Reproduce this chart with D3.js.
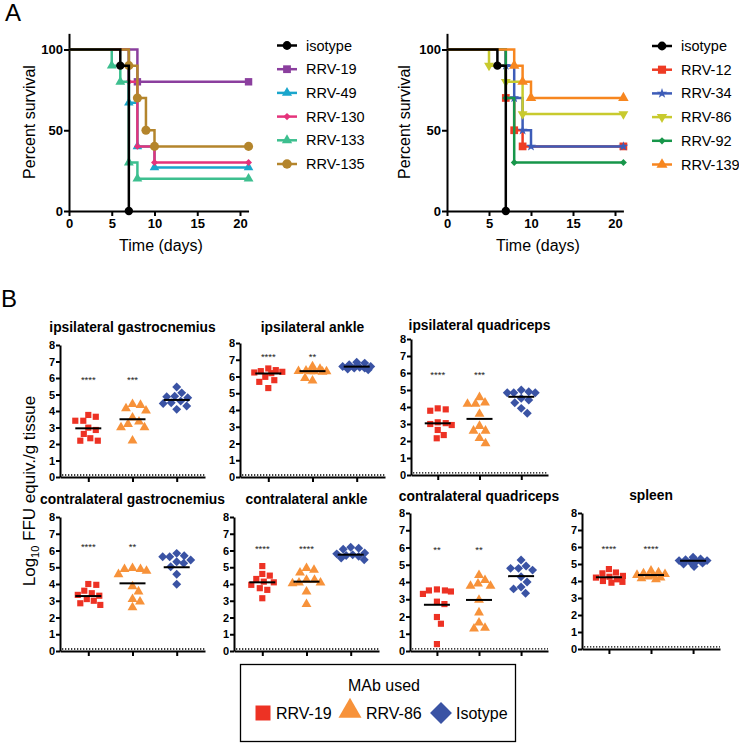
<!DOCTYPE html>
<html><head><meta charset="utf-8">
<script src="https://cdn.jsdelivr.net/npm/d3@7"></script>
<style>body{margin:0;background:#fff} svg{display:block} text{font-family:Arial,"Liberation Sans",Helvetica,sans-serif}</style>
</head><body><svg id="c" width="739" height="743"></svg>
<script>
// ---------- DATA: panel A (survival, [day, percent]) ----------
const survDayTicks = [0,5,10,15,20];
const survPctTicks = [0,50,100];
const leftNames  = ["isotype","RRV-19","RRV-49","RRV-130","RRV-133","RRV-135"];
const leftIsotype = [[0,100],[6,90],[7,0]];
const leftRRV19   = [[0,100],[8,80],[21,80]];
const leftRRV49   = [[0,100],[7,67],[8,40],[10,27],[21,27]];
const leftRRV130  = [[0,100],[7,80],[8,40],[10,30],[21,30]];
const leftRRV133  = [[0,100],[5,90],[6,80],[7,30],[8,20],[21,20]];
const leftRRV135  = [[0,100],[7,90],[8,70],[9,50],[10,40],[21,40]];
const rightNames = ["isotype","RRV-12","RRV-34","RRV-86","RRV-92","RRV-139"];
const rightIsotype = [[0,100],[6,90],[7,0]];
const rightRRV12   = [[0,100],[7,70],[8,50],[9,40],[21,40]];
const rightRRV34   = [[0,100],[7,90],[8,70],[9,50],[10,40],[21,40]];
const rightRRV86   = [[0,100],[5,90],[7,80],[9,60],[21,60]];
const rightRRV92   = [[0,100],[7,70],[8,30],[21,30]];
const rightRRV139  = [[0,100],[8,90],[9,80],[10,70],[21,70]];

// ---------- DATA: panel B (log10 FFU equiv./g tissue) ----------
const mabGroups = ["RRV-19","RRV-86","Isotype"];
const tissueNames = ["ipsilateral gastrocnemius","ipsilateral ankle","ipsilateral quadriceps",
  "contralateral gastrocnemius","contralateral ankle","contralateral quadriceps","spleen"];
const ipsiGastro19  = [3.65,3.41,3.41,3.76,2.99,2.85,2.61,2.35,2.2,2.2];
const ipsiGastro86  = [4.42,4.16,4.02,4.36,3.21,3.01,3.01,3.35,2.2,3.6];
const ipsiGastroIso = [5.45,5.1,4.9,4.87,4.8,4.6,4.5,4.45,4.3,4.1];
const ipsiAnkle19   = [6.28,6.24,6.48,6.38,6.32,5.98,5.78,5.68,5.31,6.2];
const ipsiAnkle86   = [6.3,6.3,6.3,6.28,6.35,6.32,6.6,6.45,5.75,5.9];
const ipsiAnkleIso  = [6.8,6.85,6.6,6.6,6.5,6.45,6.4,6.5,6.55,6.7];
const ipsiQuad19    = [3.92,3.78,3.86,3.0,2.94,3.1,2.65,2.35,2.16,3.05];
const ipsiQuad86    = [4.57,4.18,4.18,4.25,3.59,2.6,2.6,2.88,1.86,2.16];
const ipsiQuadIso   = [4.9,4.84,4.84,4.84,5.0,4.41,4.25,4.51,3.92,3.63];
const contraGastro19  = [4.0,3.95,3.6,3.45,3.35,3.3,3.1,3.0,2.85,2.75];
const contraGastro86  = [4.94,4.88,4.88,4.78,4.58,3.85,3.55,3.1,2.95,2.6];
const contraGastroIso = [5.69,5.63,5.83,5.63,5.33,5.43,5.03,5.24,4.58,3.98];
const contraAnkle19   = [5.07,4.6,4.5,4.3,4.14,4.1,3.95,3.75,3.65,3.15];
const contraAnkle86   = [4.94,4.84,4.68,4.24,4.24,4.08,4.08,4.04,3.54,2.8];
const contraAnkleIso  = [6.13,6.07,6.19,5.85,5.8,5.75,5.7,5.65,5.55,5.45];
const contraQuad19    = [3.51,3.51,3.31,3.45,3.57,2.72,2.86,1.97,1.58,0.4];
const contraQuad86    = [4.4,4.1,3.9,3.77,3.77,2.96,2.23,1.64,1.34,1.3];
const contraQuadIso   = [5.28,4.93,4.79,4.79,4.69,4.3,4.0,3.71,3.6,3.35];
const spleen19  = [4.7,4.5,4.45,4.3,4.25,4.2,4.1,4.0,3.95,3.9];
const spleen86  = [4.6,4.5,4.45,4.4,4.35,4.3,4.25,4.2,4.15,4.1];
const spleenIso = [5.4,5.3,5.25,5.2,5.2,5.15,5.1,5.05,5.0,4.85];
const centerLines = [[2.95,3.5,4.67],[6.18,6.32,6.59],[3.04,3.3,4.6],[3.28,4.04,5.0],
  [4.1,4.14,5.75],[2.68,2.96,4.34],[4.22,4.35,5.19]];
const sigStars = [["****","***"],["****","**"],["****","***"],["****","**"],["****","****"],["**","**"],["****","****"]];
const starLevel = [6.0,7.3,6.0,6.3,6.2,6.0,6.0];
const detectionLimit = 0.12;
const yTicksB = [0,1,2,3,4,5,6,7,8];

// ---------- DRAW ----------
const svg = d3.select("#c");

function symPath(type, size){
  if(type==="circle") return d3.symbol(d3.symbolCircle, size)();
  if(type==="square") return d3.symbol(d3.symbolSquare, size)();
  if(type==="triangle") return d3.symbol(d3.symbolTriangle, size)();
  if(type==="star") return d3.symbol(d3.symbolStar, size)();
  if(type==="tridown") return d3.symbol(d3.symbolTriangle, size)();
  if(type==="diamond"){ const r=Math.sqrt(size/2); return `M0,${-r}L${r},0L0,${r}L${-r},0Z`; }
}

function styleAxis(g, fs){
  g.select(".domain").attr("stroke","#000").attr("stroke-width",2);
  g.selectAll(".tick line").attr("stroke","#000").attr("stroke-width",2);
  g.selectAll(".tick text").attr("font-weight","bold").attr("font-size",fs).attr("fill","#000")
    .attr("font-family",'Arial,"Liberation Sans",Helvetica,sans-serif');
}

function survivalPanel(cfg){
  const x = d3.scaleLinear().domain([0,21]).range([cfg.x0, cfg.x0 + 21*cfg.ppd]);
  const y = d3.scaleLinear().domain([0,110]).range([211, 211-110*1.615]);
  const gx = svg.append("g").attr("transform",`translate(0,${y(0)})`)
    .call(d3.axisBottom(x).tickValues(survDayTicks).tickSize(5).tickPadding(3).tickSizeOuter(0));
  styleAxis(gx, 13);
  const gy = svg.append("g").attr("transform",`translate(${x(0)},0)`)
    .call(d3.axisLeft(y).tickValues(survPctTicks).tickSize(5).tickPadding(1).tickSizeOuter(0));
  styleAxis(gy, 13);
  const line = d3.line().x(d=>x(d[0])).y(d=>y(d[1])).curve(d3.curveStepAfter);
  const order = [1,2,3,4,5,0];
  order.forEach(i=>{
    const s = cfg.series[i];
    svg.append("path").attr("d", line(s.data)).attr("fill","none").attr("stroke",s.color).attr("stroke-width",2.5);
    s.data.slice(1).forEach(d=>{
      svg.append("path").attr("d", symPath(s.sym, s.size))
        .attr("transform",`translate(${x(d[0])},${y(d[1])})${s.sym==="tridown"?" rotate(180)":""}`)
        .attr("fill",s.color);
    });
  });
  cfg.series.forEach((s,i)=>{
    const ly = cfg.ly0 + i*23.7;
    svg.append("line").attr("x1",cfg.lx).attr("x2",cfg.lx+20).attr("y1",ly).attr("y2",ly)
      .attr("stroke",s.color).attr("stroke-width",2.5);
    svg.append("path").attr("d",symPath(s.sym, s.size*1.1))
      .attr("transform",`translate(${cfg.lx+10},${ly})${s.sym==="tridown"?" rotate(180)":""}`).attr("fill",s.color);
    svg.append("text").attr("x",cfg.lx+29).attr("y",ly+5).attr("font-size",14.5).text(s.name);
  });
  svg.append("text").attr("transform",`translate(${cfg.ylabX},122) rotate(-90)`).attr("text-anchor","middle")
    .attr("font-size",16).text("Percent survival");
  svg.append("text").attr("x",cfg.xlabX).attr("y",251).attr("text-anchor","middle")
    .attr("font-size",16).text("Time (days)");
}

survivalPanel({x0:69, ppd:8.55, lx:277, ly0:45.5, ylabX:35, xlabX:161,
  series:[
    {name:leftNames[0], data:leftIsotype, color:"#000000", sym:"circle", size:55},
    {name:leftNames[1], data:leftRRV19, color:"#8B3F9E", sym:"square", size:55},
    {name:leftNames[2], data:leftRRV49, color:"#1AA6CC", sym:"triangle", size:40},
    {name:leftNames[3], data:leftRRV130, color:"#E5337B", sym:"diamond", size:24},
    {name:leftNames[4], data:leftRRV133, color:"#3DBF8F", sym:"triangle", size:42},
    {name:leftNames[5], data:leftRRV135, color:"#B4852C", sym:"circle", size:65}
  ]});
survivalPanel({x0:447, ppd:8.4, lx:652, ly0:46, ylabX:410, xlabX:538,
  series:[
    {name:rightNames[0], data:rightIsotype, color:"#000000", sym:"circle", size:55},
    {name:rightNames[1], data:rightRRV12, color:"#EE3B24", sym:"square", size:60},
    {name:rightNames[2], data:rightRRV34, color:"#3D5CB8", sym:"star", size:30},
    {name:rightNames[3], data:rightRRV86, color:"#C8CA2E", sym:"tridown", size:42},
    {name:rightNames[4], data:rightRRV92, color:"#17964A", sym:"diamond", size:24},
    {name:rightNames[5], data:rightRRV139, color:"#F7861F", sym:"triangle", size:48}
  ]});

svg.append("text").attr("x",5).attr("y",21).attr("font-size",24).text("A");
svg.append("text").attr("x",1).attr("y",307).attr("font-size",24).text("B");

// panel B
const groupColors = ["#ED3224","#F7923A","#3A53A4"];
const groupSyms = ["square","triangle","diamond"];
const groupSizes = [38,42,40];
const panelData = [
  [ipsiGastro19, ipsiGastro86, ipsiGastroIso],
  [ipsiAnkle19, ipsiAnkle86, ipsiAnkleIso],
  [ipsiQuad19, ipsiQuad86, ipsiQuadIso],
  [contraGastro19, contraGastro86, contraGastroIso],
  [contraAnkle19, contraAnkle86, contraAnkleIso],
  [contraQuad19, contraQuad86, contraQuadIso],
  [spleen19, spleen86, spleenIso]
];
const panelBox = [
  {x0:60, x1:205, y0:477, y8:345, ty:332},
  {x0:240, x1:385, y0:477, y8:343, ty:332},
  {x0:411, x1:548, y0:475, y8:339, ty:330},
  {x0:60, x1:205, y0:651, y8:517, ty:504},
  {x0:234, x1:379, y0:651, y8:517, ty:504},
  {x0:410, x1:548, y0:651, y8:513, ty:501},
  {x0:582, x1:720, y0:649, y8:513, ty:500}
];

// beeswarm placement (horizontal spread limited to +/- maxW px)
function layoutSwarm(vals, yS){
  const r = 7.6, maxW = 14, step = 0.5;
  const pts = vals.map(v=>({v, py:yS(v)})).sort((a,b)=>a.py-b.py);
  const placed = [];
  pts.forEach(p=>{
    let best = null, bestCand = 0, bestScore = -Infinity;
    for(let k=0; k<=2*maxW/step; k++){
      const dx = (k%2?1:-1)*Math.ceil(k/2)*step;
      let minD = Infinity;
      placed.forEach(q=>{ minD = Math.min(minD, Math.hypot(q.dx-dx, q.py-p.py)); });
      if(minD >= r){ best = dx; break; }
      if(minD > bestScore + 0.3){ bestScore = minD; bestCand = dx; }
    }
    p.dx = best !== null ? best : bestCand;
    placed.push(p);
  });
  return pts;
}

panelBox.forEach((p,pi)=>{
  const y = d3.scaleLinear().domain([0,8]).range([p.y0, p.y8]);
  const x = d3.scalePoint().domain(mabGroups).range([p.x0, p.x1]).padding(0.64);
  svg.append("line").attr("x1",p.x0+2).attr("x2",p.x1).attr("y1",y(detectionLimit)).attr("y2",y(detectionLimit))
    .attr("stroke","#000").attr("stroke-width",1.3).attr("stroke-dasharray","1.3,1.7");
  const gy = svg.append("g").attr("transform",`translate(${p.x0},0)`)
    .call(d3.axisLeft(y).tickValues(yTicksB).tickFormat(d3.format("d")).tickSize(4).tickPadding(1).tickSizeOuter(0));
  styleAxis(gy, 11);
  const gx = svg.append("g").attr("transform",`translate(0,${p.y0})`)
    .call(d3.axisBottom(x).tickSize(5).tickFormat("").tickSizeOuter(0));
  styleAxis(gx, 11);
  panelData[pi].forEach((vals,gi)=>{
    const cx = x(mabGroups[gi]);
    layoutSwarm(vals, y).forEach(pt=>{
      svg.append("path").attr("d",symPath(groupSyms[gi], groupSizes[gi]))
        .attr("transform",`translate(${cx+pt.dx},${pt.py})`).attr("fill",groupColors[gi]);
    });
    svg.append("line").attr("x1",cx-13).attr("x2",cx+13)
      .attr("y1",y(centerLines[pi][gi])).attr("y2",y(centerLines[pi][gi]))
      .attr("stroke","#000").attr("stroke-width",2);
    if(gi<2){
      svg.append("text").attr("x",cx).attr("y",y(starLevel[pi])+5).attr("text-anchor","middle")
        .attr("font-size",9.5).attr("fill","#222").text(sigStars[pi][gi]);
    }
  });
  svg.append("text").attr("x",(p.x0+p.x1)/2).attr("y",p.ty).attr("text-anchor","middle")
    .attr("font-size",13.8).attr("font-weight","bold").text(tissueNames[pi]);
});

const yl = svg.append("text").attr("transform","translate(35,491) rotate(-90)").attr("text-anchor","middle").attr("font-size",17);
yl.append("tspan").text("Log");
yl.append("tspan").attr("font-size",11).attr("dy",4).text("10");
yl.append("tspan").attr("dy",-4).text(" FFU equiv./g tissue");

svg.append("rect").attr("x",240.5).attr("y",664.5).attr("width",275).attr("height",77)
  .attr("fill","none").attr("stroke","#000").attr("stroke-width",1.3);
svg.append("text").attr("x",384).attr("y",691).attr("text-anchor","middle").attr("font-size",16).text("MAb used");
const legX = [263, 350, 441];
const legSizes = [225, 230, 240];
const legTextX = [276, 366, 456];
mabGroups.forEach((g,i)=>{
  svg.append("path").attr("d",symPath(groupSyms[i], legSizes[i]))
    .attr("transform",`translate(${legX[i]},${i===1?711:713})`).attr("fill",groupColors[i]);
  svg.append("text").attr("x",legTextX[i]).attr("y",719).attr("font-size",16).text(g);
});
</script></body></html>
